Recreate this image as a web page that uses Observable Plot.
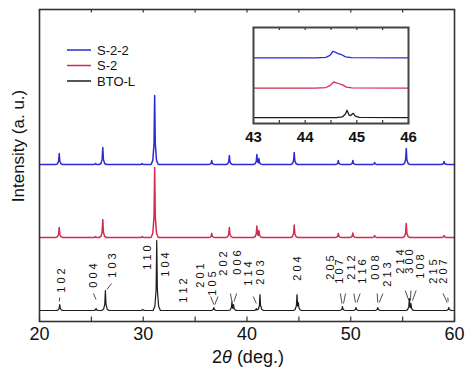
<!DOCTYPE html>
<html><head><meta charset="utf-8">
<script src="https://cdn.jsdelivr.net/npm/d3@7"></script>
<script src="https://cdn.jsdelivr.net/npm/@observablehq/plot@0.6"></script>
<style>
body{margin:0;background:#fff;}
#chart{position:relative;width:474px;height:375px;font-family:"Liberation Sans",Arial,sans-serif;}
#chart > svg, #chart > figure{position:absolute;margin:0;}
</style></head><body><div id="chart"></div>
<script>
// ---- data ----
const seriesNames = ["S-2-2", "S-2", "BTO-L"];
const seriesColors = ["#2a2ad6", "#d42a50", "#1c1c1c"];
const seriesOffsets = [146, 73, 0];   // vertical stacking offset (a.u.)
const baseLevel = 11;                 // baseline of lowest trace (a.u.)

// peaks: [2θ (deg), height (a.u.)]
const peaksS22 = [[21.9,11],[25.4,1],[26.1,17],[29.9,1],[31.1,69],[36.6,4],[38.3,9],[40.95,10],[41.15,6],[44.55,12],[48.8,4],[50.2,4],[52.3,2],[55.35,16],[59.0,3]];
const peaksS2  = [[21.9,10],[25.4,1],[26.1,18],[29.9,1],[31.1,70],[36.6,4],[38.3,10],[40.95,11.5],[41.15,7],[44.55,12.5],[48.8,4],[50.2,4.5],[52.3,2],[55.35,14],[59.0,2]];
const peaksBTO = [[21.95,6],[25.45,2],[26.35,20],[29.95,1],[31.3,70],[36.8,3],[38.55,9],[38.7,6],[40.9,2],[41.25,16],[44.82,16],[44.95,8],[49.2,4],[50.5,3],[52.6,3],[55.65,12],[55.8,7],[59.45,3]];
const allPeaks = [peaksS22, peaksS2, peaksBTO];

const xTicks = [20, 25, 30, 35, 40, 45, 50, 55, 60];
const xTickLabels = [20, 30, 40, 50, 60];

// hkl labels: [text, 2θ, a.u.]
const hklLabels = [
  ["1 0 2",22.1,41],["0 0 4",25.2,46],["1 0 3",27.0,56],["1 1 0",30.4,64],["1 0 4",32.15,57],
  ["1 1 2",33.9,31],["2 0 1",35.5,46],["1 0 5",36.7,38],["2 0 2",37.75,58],["0 0 6",39.1,59],
  ["1 1 4",40.15,48],["2 0 3",41.3,49],["2 0 4",44.9,53],["2 0 5",48.0,54],["1 0 7",48.95,50],
  ["2 1 2",50.1,54],["1 1 6",51.15,50],["0 0 8",52.4,54],["2 1 3",53.5,47],["2 1 4",54.75,60],
  ["3 0 0",55.7,60],["1 0 8",56.75,55],["2 1 5",58.0,50],["2 0 7",58.95,50]
];
// leader lines: [2θ1, a.u.1, 2θ2, a.u.2]
const leaders = [
  [21.9,20,21.95,24],[25.2,28,25.45,22],[26.95,38,26.5,32],
  [36.5,25,36.8,17],[37.2,25,36.9,17],[38.4,28,38.55,20],[39.0,28,38.75,20],
  [40.6,25,40.9,18],[49.0,28,49.15,18],[49.5,28,49.3,18],
  [50.3,28,50.45,19],[50.9,28,50.6,19],[52.55,28,52.6,19],[53.1,28,52.75,19],
  [55.25,31,55.6,21],[55.8,31,55.75,21],[56.3,31,55.95,21],
  [58.9,28,59.3,19],[59.35,24,59.4,20]
];

// inset (43–46°) traces: [2θ, a.u.] vertices, and offsets
const insetS22 = [[43,0],[44.2,0],[44.4,0.6],[44.48,2.5],[44.54,6.7],[44.59,5.6],[44.64,4.2],[44.7,3.4],[44.78,1],[44.9,0.2],[46,0]];
const insetS2  = [[43,0],[44.2,0],[44.4,0.6],[44.48,2.5],[44.55,6.2],[44.6,5.4],[44.66,4.4],[44.72,3.2],[44.8,1],[44.9,0.2],[46,0]];
const insetBTO = [[43,0],[44.6,0],[44.72,0.6],[44.78,3.5],[44.81,7.3],[44.85,2.5],[44.88,2],[44.93,4.2],[44.97,1.5],[45.05,0.2],[46,0]];
const insetTraces = [insetS22, insetS2, insetBTO];
const insetOffsets = [60, 29.6, 0];
const insetBase = 6;
const insetTicks = [43, 43.5, 44, 44.5, 45, 45.5, 46];
const insetTickLabels = [43, 44, 45, 46];

// ---- build profiles from peak list ----
const shape = [[-0.35,0],[-0.18,0.06],[-0.06,0.3],[0,1],[0.06,0.3],[0.18,0.06],[0.35,0]];
function profile(peaks) {
  const xs = new Set([20, 60]);
  for (const [p] of peaks) for (const [dx] of shape) xs.add(+(p + dx).toFixed(3));
  const sorted = [...xs].sort((a, b) => a - b);
  return sorted.map(x => {
    let y = 0;
    for (const [p, h] of peaks) {
      const d = x - p;
      for (let i = 0; i < shape.length - 1; i++) {
        const [a, ya] = shape[i], [b, yb] = shape[i + 1];
        if (d >= a && d <= b) { y = Math.max(y, h * (ya + (yb - ya) * (d - a) / (b - a))); break; }
      }
    }
    return {x, y};
  });
}

const font = "Liberation Sans, Arial, Helvetica, sans-serif";
const chart = document.getElementById("chart");

const mainMarks = [];
allPeaks.forEach((pk, i) => {
  const pts = profile(pk).map(d => ({x: d.x, y: d.y + baseLevel + seriesOffsets[i]}));
  mainMarks.push(Plot.line(pts, {x: "x", y: "y", stroke: seriesColors[i], strokeWidth: i < 2 ? 1.5 : 1.2}));
});

const main = Plot.plot({
  width: 474, height: 375,
  marginLeft: 39, marginRight: 20, marginTop: 9, marginBottom: 54,
  x: {domain: [20, 60]},
  y: {domain: [0, 312], axis: null},
  style: {fontFamily: font, fontSize: "18px", color: "#111", background: "transparent"},
  marks: [
    Plot.ruleX(xTicks, {x: d => d, y1: 0, y2: 4.5, stroke: "#333", strokeWidth: 1.2}),
    Plot.ruleX(xTicks, {x: d => d, y1: 312, y2: 308.5, stroke: "#333", strokeWidth: 1.2}),
    Plot.link(leaders, {x1: d => d[0], y1: d => d[1], x2: d => d[2], y2: d => d[3], stroke: "#222", strokeWidth: 0.8}),
    Plot.text(hklLabels, {x: d => d[1], y: d => d[2], text: d => d[0], rotate: -90, fontSize: 11, fill: "#111"}),
    ...mainMarks.slice().reverse(),
    Plot.frame({stroke: "#333", strokeWidth: 1.6}),
    Plot.axisX({ticks: xTickLabels, tickSize: 0, tickPadding: 6, label: null, fontSize: 18})
  ]
});
chart.appendChild(main);

const svg = d3.select(main);
// axis labels
const xl = svg.append("text").attr("x", 248).attr("y", 363).attr("text-anchor", "middle")
  .attr("font-family", font).attr("font-size", 18).attr("fill", "#111");
xl.append("tspan").text("2");
xl.append("tspan").attr("font-style", "italic").text("θ");
xl.append("tspan").text(" (deg.)");
svg.append("text").attr("transform", "translate(24,146) rotate(-90)").attr("text-anchor", "middle")
  .attr("font-family", font).attr("font-size", 17).attr("fill", "#111").text("Intensity (a. u.)");

// legend
const lg = svg.append("g").attr("text-anchor", "start");
seriesNames.forEach((name, i) => {
  const y = 50 + i * 15.5;
  lg.append("line").attr("x1", 67).attr("x2", 91).attr("y1", y).attr("y2", y)
    .attr("stroke", seriesColors[i]).attr("stroke-width", 1.5);
  lg.append("text").attr("x", 97).attr("y", y + 4.6).attr("text-anchor", "start")
    .attr("font-family", font).attr("font-size", 13).attr("fill", "#111").text(name);
});

// inset
const insetMarks = insetTraces.map((tr, i) =>
  Plot.line(tr.map(([x, y]) => ({x, y: y + insetBase + insetOffsets[i]})), {x: "x", y: "y", stroke: seriesColors[i], strokeWidth: 1.3}));
const inset = Plot.plot({
  width: 200, height: 132,
  marginLeft: 20, marginRight: 25, marginTop: 7, marginBottom: 29,
  x: {domain: [43, 46]},
  y: {domain: [0, 96.6], axis: null},
  style: {fontFamily: font, fontSize: "15px", color: "#111", background: "transparent"},
  marks: [
    Plot.frame({fill: "#fff", stroke: "none"}),
    ...insetMarks,
    Plot.ruleX(insetTicks, {x: d => d, y1: 0, y2: 3, stroke: "#333", strokeWidth: 1.2}),
    Plot.ruleX(insetTicks, {x: d => d, y1: 96.6, y2: 93.6, stroke: "#333", strokeWidth: 1.2}),
    Plot.frame({stroke: "#444", strokeWidth: 2}),
    Plot.axisX({ticks: insetTickLabels, tickFormat: d => String(d), tickSize: 0, tickPadding: 8, label: null, fontSize: 15, fontWeight: "bold"})
  ]
});
inset.style.left = "233px";
inset.style.top = "20px";
chart.appendChild(inset);
</script></body></html>
